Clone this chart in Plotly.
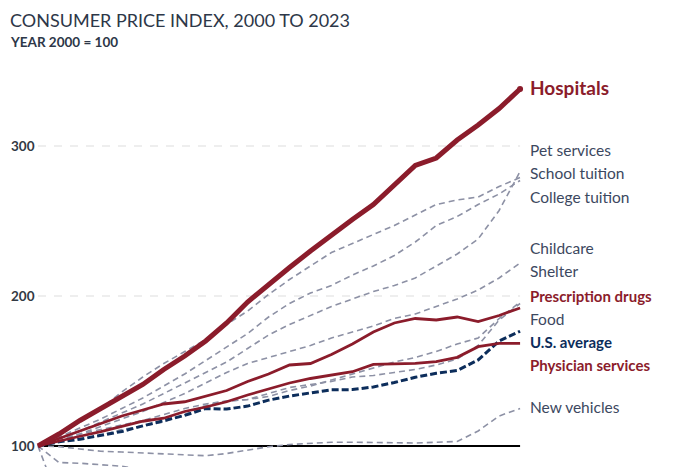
import plotly.graph_objects as go

# CPI by category, index 2000 = 100
years = list(range(2000, 2024))

hospitals = [100, 108, 117, 125, 133, 141, 151, 160, 170, 182, 196, 208,
             219, 230, 241, 251, 261, 274, 287, 292, 304, 314, 325, 338]
pet_services = [100, 105, 110, 116, 122, 128, 135, 142, 149, 156, 165, 174,
                181, 187, 193, 198, 203, 207, 212, 220, 228, 238, 257, 283]
school_tuition = [100, 106, 112, 118, 125, 132, 140, 148, 157, 166, 175, 186,
                  195, 202, 207, 214, 220, 227, 236, 247, 253, 261, 268, 277]
college_tuition = [100, 108, 116, 125, 136, 146, 155, 163, 171, 181, 190, 201,
                   211, 220, 229, 235, 241, 247, 254, 261, 264, 266, 273, 279]
childcare = [100, 104, 108, 113, 118, 123, 129, 135, 142, 149, 155, 159,
             163, 167, 172, 176, 180, 185, 188, 193, 198, 204, 212, 222]
shelter = [100, 104, 108, 111, 114, 117, 121, 125, 128, 130, 131, 133,
           137, 140, 144, 148, 152, 156, 159, 163, 168, 172, 185, 196]
prescription_drugs = [100, 105, 110, 115, 120, 124, 128, 129.5, 133, 137, 143, 148,
                      154, 155, 161, 168, 176, 182, 185, 184, 186, 183, 187, 192]
food = [100, 103, 105, 107, 111, 113.5, 116, 121, 127, 130, 131, 135,
        139, 141, 143, 146, 147, 149, 151, 154, 158, 167, 184, 195]
us_average = [100, 102.8, 104.5, 106.9, 109.7, 113.4, 117.1, 120.4, 125.0, 124.6, 126.6, 130.6,
              133.3, 135.3, 137.5, 137.6, 139.4, 142.3, 145.8, 148.5, 150.3, 157.4, 170.0, 176.5]
physician_services = [100, 103.5, 106.5, 109.6, 113, 116.5, 118.5, 123, 126, 129.5, 134, 138,
                      142, 145, 147.3, 149.5, 154.4, 154.7, 155.1, 156.2, 159.1, 166.2, 168.4, 168.4]
new_vehicles = [100, 99.6, 98, 96.5, 96, 95.5, 95, 94.5, 93.5, 95, 97.5, 99.5,
                101, 102, 102.5, 102.5, 102.3, 102, 102, 102.5, 103, 110, 120, 125]
# these two fall below the bottom edge of the picture after the first years
toys = [100, 89, 88.5, 87.5, 86.5, 84, 81, 77, 74, 72, 68, 65,
        62, 58, 55, 52, 49, 46, 44, 42, 41, 42, 44, 45]
televisions = [100, 63, 47, 37, 30, 25, 20, 16, 13, 11, 9, 8,
               7, 6, 5, 4.5, 4, 3.5, 3, 2.8, 2.6, 2.5, 2.4, 2.3]

y_ticks = [100, 200, 300]
grid_values = [200, 300]
baseline = 100

RED = "#8b1c2b"
NAVY = "#0c2d5b"
GREY = "#8d91a5"
LABEL_GREY = "#3c4860"
FONT = "Lato"

fig = go.Figure()

# background categories
grey_lines = [pet_services, school_tuition, college_tuition, childcare, shelter,
              food, new_vehicles, toys, televisions]
for vals in grey_lines:
    fig.add_trace(go.Scatter(
        x=years, y=vals, mode="lines",
        line=dict(color=GREY, width=1.6, dash="6px,4px"),
        hoverinfo="skip"
    ))

fig.add_trace(go.Scatter(
    x=years, y=us_average, mode="lines",
    line=dict(color=NAVY, width=3, dash="7px,3px"),
    hoverinfo="skip"
))

for vals in [physician_services, prescription_drugs]:
    fig.add_trace(go.Scatter(
        x=years, y=vals, mode="lines",
        line=dict(color=RED, width=2.8),
        hoverinfo="skip"
    ))

fig.add_trace(go.Scatter(
    x=years, y=hospitals, mode="lines",
    line=dict(color=RED, width=5),
    hoverinfo="skip"
))
fig.add_trace(go.Scatter(
    x=[years[-1]], y=[hospitals[-1]], mode="markers",
    marker=dict(color=RED, size=6),
    hoverinfo="skip"
))

# dashed gridlines and the 100 baseline, only across the data span
for v in grid_values:
    fig.add_shape(type="line", x0=years[0], x1=years[-1], y0=v, y1=v,
                  line=dict(color="#dedede", width=1.2, dash="8px,8px"),
                  layer="below")
fig.add_shape(type="line", x0=years[0], x1=years[-1], y0=baseline, y1=baseline,
              line=dict(color="black", width=2.2), layer="below")

# right-hand labels (stacked so they don't collide)
labels = [
    ("Hospitals", 339.3, RED, 19, True),
    ("Pet services", 297.3, LABEL_GREY, 15.5, False),
    ("School tuition", 282, LABEL_GREY, 15.5, False),
    ("College tuition", 266, LABEL_GREY, 15.5, False),
    ("Childcare", 232, LABEL_GREY, 15.5, False),
    ("Shelter", 216.7, LABEL_GREY, 15.5, False),
    ("Prescription drugs", 200, RED, 15, True),
    ("Food", 184.7, LABEL_GREY, 15.5, False),
    ("U.S. average", 169.3, NAVY, 15, True),
    ("Physician services", 154, RED, 15, True),
    ("New vehicles", 126, LABEL_GREY, 15.5, False),
]
for text, yv, color, size, bold in labels:
    fig.add_annotation(
        x=2023.4, y=yv, text=f"<b>{text}</b>" if bold else text,
        showarrow=False, xanchor="left", yanchor="middle",
        font=dict(family=FONT, size=size, color=color)
    )

fig.add_annotation(
    x=8 / 680, y=1 - 20 / 467, xref="paper", yref="paper",
    text="CONSUMER PRICE INDEX, 2000 TO 2023", showarrow=False,
    xanchor="left", yanchor="middle",
    font=dict(family=FONT, size=18, color="#2d3748")
)
fig.add_annotation(
    x=8 / 680, y=1 - 42 / 467, xref="paper", yref="paper",
    text="<b>YEAR 2000 = 100</b>", showarrow=False,
    xanchor="left", yanchor="middle",
    font=dict(family=FONT, size=13.5, color="#2d3748")
)

fig.update_layout(
    width=680, height=467,
    margin=dict(l=0, r=0, t=0, b=0),
    plot_bgcolor="white", paper_bgcolor="white",
    showlegend=False,
    xaxis=dict(visible=False, range=[1998.187, 2030.63]),
    yaxis=dict(
        range=[86, 397.33],
        tickvals=y_ticks,
        ticklabelposition="inside",
        ticklabelstandoff=8,
        tickfont=dict(family=FONT, size=13.5, color="#333a44", weight="bold"),
        showgrid=False, zeroline=False, showline=False, ticks=""
    )
)

fig.write_html("out.html", config={"displayModeBar": False},
               post_script="document.body.style.margin='0';")
